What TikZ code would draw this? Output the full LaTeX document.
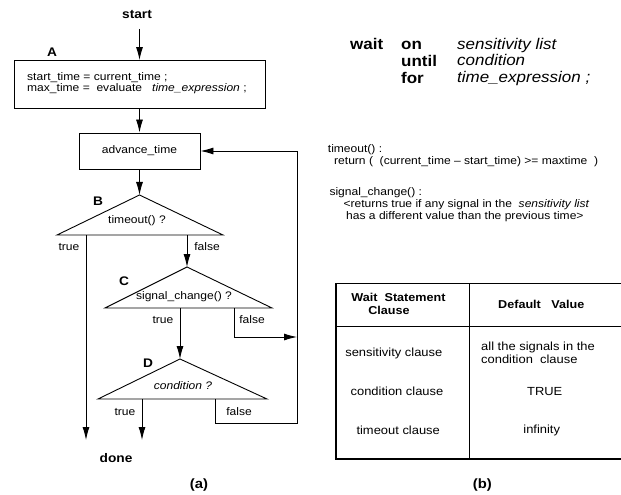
\documentclass[tikz,border=0pt]{standalone}
\usepackage{fontspec}
\setmainfont{Liberation Sans}[FakeStretch=1.1]
\usetikzlibrary{arrows.meta}

\tikzset{
  box/.style={draw, line width=0.9bp, rectangle, inner sep=0pt},
  flow/.style={line width=0.9bp},
  arr/.style={flow, -{Latex[length=13bp,width=7bp]}},
  small/.style={font=\fontsize{11}{10}\selectfont, inner sep=1bp},
  tab/.style={font=\fontsize{11.8}{12.6}\selectfont, inner sep=1bp},
  tabhead/.style={font=\fontsize{11.5}{11.5}\selectfont\bfseries, inner sep=1bp},
  lbl/.style={font=\fontsize{12.5}{12.5}\selectfont\bfseries, inner sep=1bp},
  big/.style={font=\fontsize{15.5}{15.5}\selectfont, inner sep=0pt, anchor=base west},
  code/.style={font=\fontsize{11}{11}\selectfont, inner sep=0pt, anchor=base west},
}

\begin{document}
\begin{tikzpicture}[x=1bp, y=-1bp]
  \useasboundingbox (0,0) rectangle (621,495);

  % (a) flow chart
  \node [lbl] (start) at (137,15) {start};
  \node [box, minimum width=251bp, minimum height=48bp] (A) at (139.5,84.5) {};
  \node [lbl] (labA) at (52,52) {A};
  \node [small, anchor=west, align=left] (Atext) at (26,83.5)
        {start\_time = current\_time ;\\max\_time = \ evaluate \ \ \textit{time\_expression} ;};
  \node [box, small, minimum width=121bp, minimum height=36bp] (adv) at (139.5,151) {advance\_time};

  \coordinate (Btop) at (139.5,195);
  \coordinate (Bleft) at (57,235);
  \coordinate (Bright) at (223,235);
  \coordinate (Ctop) at (187,267);
  \coordinate (Cleft) at (105,308);
  \coordinate (Cright) at (272,308);
  \coordinate (Dtop) at (180,359);
  \coordinate (Dleft) at (98,399);
  \coordinate (Dright) at (267,399);
  \draw [flow] (Btop) -- (Bleft) -- (Bright) -- cycle;
  \draw [flow] (Ctop) -- (Cleft) -- (Cright) -- cycle;
  \draw [flow] (Dtop) -- (Dleft) -- (Dright) -- cycle;

  \node [lbl] (labB) at (98,201) {B};
  \node [lbl] (labC) at (124,281) {C};
  \node [lbl] (labD) at (148,363) {D};
  \node [small] (qB) at (137,221) {timeout() ?};
  \node [small] (qC) at (184,297) {signal\_change() ?};
  \node [small] (qD) at (183,386) {\textit{condition ?}};

  \coordinate (Btrue) at (86,235);
  \coordinate (Bend) at (86,440);
  \coordinate (Cfalse) at (234,308);
  \coordinate (loopC) at (297,337);
  \coordinate (Dtrue) at (142,399);
  \coordinate (Dend) at (142,440);
  \coordinate (Dfalse) at (215,399);
  \coordinate (loopD) at (297,423);

  \draw [arr, shorten <=8.5bp] (A.north |- start.south) -- (A.north);
  \draw [arr] (A.south) -- (adv.north);
  \draw [arr] (adv.south) -- (Btop);
  \draw [arr] (Btrue) -- (Bend);
  \draw [arr] (Ctop |- Bleft) -- (Ctop);
  \draw [arr] (Dtop |- Cleft) -- (Dtop);
  \draw [arr] (Cfalse) |- (loopC);
  \draw [arr] (Dtrue) -- (Dend);
  \draw [arr] (Dfalse) |- (loopD) |- (adv.east);

  \node [small] (tB) at (69,247) {true};
  \node [small] (fB) at (207,247) {false};
  \node [small] (tC) at (163,320) {true};
  \node [small] (fC) at (252,320) {false};
  \node [small] (tD) at (125,412) {true};
  \node [small] (fD) at (239,412) {false};

  \node [lbl] (done) at (116,458) {done};
  \node [lbl, font=\fontsize{13.5}{13.5}\selectfont\bfseries] (capA) at (199,485) {(a)};

  % (b) wait statement and defaults
  \node [big, font=\fontsize{15.5}{15.5}\selectfont\bfseries] (wait) at (350,50) {wait};
  \node [big, font=\fontsize{15.5}{15.5}\selectfont\bfseries] (on) at (401,50) {on};
  \node [big, font=\fontsize{15.5}{15.5}\selectfont\bfseries] (until) at (401,66.7) {until};
  \node [big, font=\fontsize{15.5}{15.5}\selectfont\bfseries] (for) at (401,83.3) {for};
  \node [big] (slist) at (457,49.5) {\textit{sensitivity list}};
  \node [big] (cond) at (457,66) {\textit{condition}};
  \node [big] (texp) at (457,82.7) {\textit{time\_expression ;}};

  \node [code] (toHead) at (327.7,152.5) {timeout() :};
  \node [code] (toBody) at (334,164.3) {return ( \ (current\_time -- start\_time) >= maxtime \ )};
  \node [code] (scHead) at (329.3,195.5) {signal\_change() :};
  \node [code] (scBody) at (343.3,207.3) {<returns true if any signal in the \ \textit{sensitivity list}};
  \node [code] (scMore) at (346,219.3) {has a different value than the previous time>};

  \draw [line width=1.1bp] (621,283.3) -| (336,459) -- (621,459);
  \draw [line width=1.1bp] (336,326.7) -- (621,326.7);
  \draw [line width=1.1bp] (469.3,283.3) -- (469.3,459);

  \node [tabhead] (h1) at (398.5,297.3) {Wait \ Statement};
  \node [tabhead] (h1b) at (389,310.7) {Clause};
  \node [tabhead] (h2) at (541.3,304.3) {Default \ \ Value};
  \node [tab] (r1a) at (393.8,353.3) {sensitivity clause};
  \node [tab] (r2a) at (397,391.7) {condition clause};
  \node [tab] (r3a) at (398.2,430.7) {timeout clause};
  \node [tab, anchor=west, align=left] (r1b) at (480,353) {all the signals in the\\condition \ clause};
  \node [tab] (r2b) at (544.7,391.7) {TRUE};
  \node [tab] (r3b) at (541.7,430.7) {infinity};

  \node [lbl, font=\fontsize{13.5}{13.5}\selectfont\bfseries] (capB) at (482.3,485) {(b)};
\end{tikzpicture}
\end{document}
